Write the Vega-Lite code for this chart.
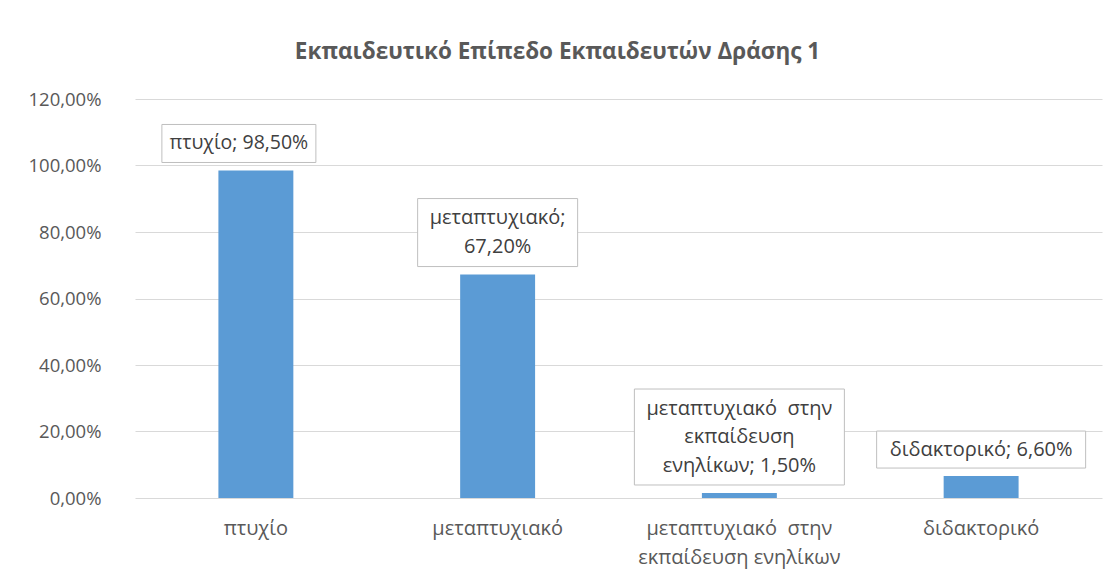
{
  "$schema": "https://vega.github.io/schema/vega-lite/v6.json",
  "width": 967,
  "height": 399,
  "autosize": "none",
  "padding": {"left": 135, "top": 99, "right": 16, "bottom": 80},
  "background": "white",
  "config": {
    "locale": {"number": {"decimal": ",", "thousands": ".", "grouping": [3], "currency": ["", " €"]}},
    "view": {"stroke": null},
    "font": "Open Sans"
  },
  "title": {
    "text": "Εκπαιδευτικό Επίπεδο Εκπαιδευτών Δράσης 1",
    "fontSize": 22.5,
    "fontWeight": "bold",
    "color": "#595959",
    "anchor": "middle",
    "dx": -61,
    "offset": 27
  },
  "data": {
    "values": [
      {"cat": "πτυχίο", "value": 0.985, "lab": "πτυχίο; 98,50%"},
      {"cat": "μεταπτυχιακό", "value": 0.672, "lab": "μεταπτυχιακό;\n67,20%"},
      {"cat": "μεταπτυχιακό στην εκπαίδευση ενηλίκων", "value": 0.015, "lab": "μεταπτυχιακό\u00a0 στην\nεκπαίδευση\nενηλίκων; 1,50%"},
      {"cat": "διδακτορικό", "value": 0.066, "lab": "διδακτορικό; 6,60%"}
    ]
  },
  "encoding": {
    "x": {
      "field": "cat",
      "type": "nominal",
      "sort": null,
      "scale": {"paddingInner": 0, "paddingOuter": 0},
      "axis": {
        "title": null,
        "domain": false,
        "ticks": false,
        "labelAngle": 0,
        "labelPadding": 20,
        "labelFontSize": 20,
        "labelColor": "#595959",
        "labelLineHeight": 29,
        "labelLimit": 400,
        "labelExpr": "datum.value == 'μεταπτυχιακό στην εκπαίδευση ενηλίκων' ? ['μεταπτυχιακό\u00a0 στην', 'εκπαίδευση ενηλίκων'] : datum.value"
      }
    },
    "y": {
      "field": "value",
      "type": "quantitative",
      "scale": {"domain": [0, 1.2]},
      "axis": {
        "title": null,
        "format": ".2%",
        "values": [0, 0.2, 0.4, 0.6, 0.8, 1, 1.2],
        "domain": false,
        "ticks": false,
        "labelPadding": 34,
        "labelFontSize": 18.5,
        "labelColor": "#595959",
        "gridColor": "#D9D9D9",
        "gridWidth": 1
      }
    }
  },
  "layer": [
    {"mark": {"type": "bar", "color": "#5B9BD5", "width": {"band": 0.31}}},
    {
      "transform": [{"filter": "datum.cat == 'πτυχίο'"}],
      "layer": [
        {"mark": {"type": "point", "filled": true, "fill": "white", "stroke": "#BFBFBF", "strokeWidth": 1, "opacity": 1, "size": 23716, "shape": "M-1,-0.2468L1,-0.2468L1,0.2468L-1,0.2468Z", "xOffset": -17, "yOffset": -27}},
        {"mark": {"type": "text", "fontSize": 19.5, "color": "#404040", "baseline": "middle", "lineBreak": "\n", "lineHeight": 29, "xOffset": -17, "yOffset": -27}, "encoding": {"text": {"field": "lab"}}}
      ]
    },
    {
      "transform": [{"filter": "datum.cat == 'μεταπτυχιακό'"}],
      "layer": [
        {"mark": {"type": "point", "filled": true, "fill": "white", "stroke": "#BFBFBF", "strokeWidth": 1, "opacity": 1, "size": 25600, "shape": "M-1,-0.425L1,-0.425L1,0.425L-1,0.425Z", "yOffset": -42}},
        {"mark": {"type": "text", "fontSize": 20, "color": "#404040", "baseline": "middle", "lineBreak": "\n", "lineHeight": 29, "yOffset": -56.5}, "encoding": {"text": {"field": "lab"}}}
      ]
    },
    {
      "transform": [{"filter": "datum.cat == 'μεταπτυχιακό στην εκπαίδευση ενηλίκων'"}],
      "layer": [
        {"mark": {"type": "point", "filled": true, "fill": "white", "stroke": "#BFBFBF", "strokeWidth": 1, "opacity": 1, "size": 44100, "shape": "M-1,-0.457L1,-0.457L1,0.457L-1,0.457Z", "yOffset": -56}},
        {"mark": {"type": "text", "fontSize": 20, "color": "#404040", "baseline": "middle", "lineBreak": "\n", "lineHeight": 28.5, "yOffset": -84.5}, "encoding": {"text": {"field": "lab"}}}
      ]
    },
    {
      "transform": [{"filter": "datum.cat == 'διδακτορικό'"}],
      "layer": [
        {"mark": {"type": "point", "filled": true, "fill": "white", "stroke": "#BFBFBF", "strokeWidth": 1, "opacity": 1, "size": 43681, "shape": "M-1,-0.177L1,-0.177L1,0.177L-1,0.177Z", "yOffset": -26.5}},
        {"mark": {"type": "text", "fontSize": 20, "color": "#404040", "baseline": "middle", "lineBreak": "\n", "lineHeight": 29, "yOffset": -26.5}, "encoding": {"text": {"field": "lab"}}}
      ]
    }
  ]
}
